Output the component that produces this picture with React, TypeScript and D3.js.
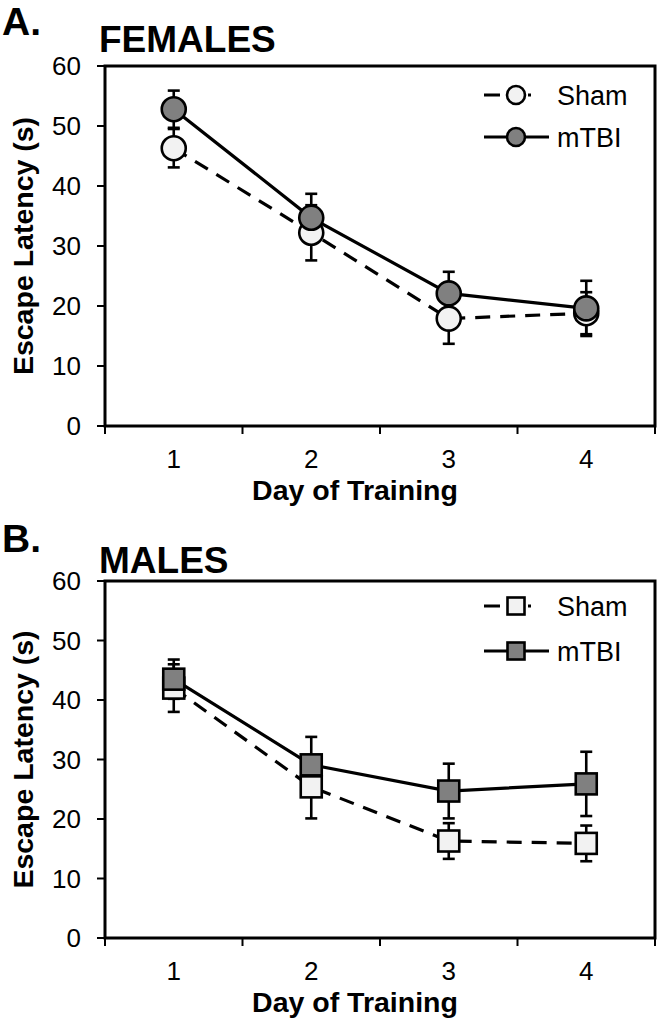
import React from "react";
import * as d3 from "d3";

const days = ["1", "2", "3", "4"];
const yTicks = [0, 10, 20, 30, 40, 50, 60];
const seriesNames = ["Sham", "mTBI"];

const femaleSham = [46.3, 32.2, 17.9, 18.8];
const femaleShamErr = [3.2, 4.6, 4.2, 3.5];
const femaleTbi = [52.8, 34.7, 22.1, 19.6];
const femaleTbiErr = [3.1, 4.0, 3.6, 4.6];

const maleSham = [42.0, 25.4, 16.3, 15.9];
const maleShamErr = [4.0, 5.3, 3.0, 3.0];
const maleTbi = [43.5, 29.1, 24.7, 25.9];
const maleTbiErr = [3.3, 4.7, 4.6, 5.4];

const FONT = "'Liberation Sans', Arial, Helvetica, sans-serif";
const SHAM_FILL = "#f2f2f2";
const TBI_FILL = "#808080";
const DASH = "15 10";

type PanelProps = {
  letter: string;
  title: string;
  top: number;
  bottom: number;
  letterY: number;
  titleY: number;
  shape: "circle" | "square";
  sham: number[];
  shamErr: number[];
  tbi: number[];
  tbiErr: number[];
  legendY: number[];
};

function Marker({ shape, x, y, size, fill }: { shape: string; x: number; y: number; size: number; fill: string }) {
  if (shape === "circle") {
    return <circle cx={x} cy={y} r={size} fill={fill} stroke="#000" strokeWidth={2.6} />;
  }
  return (
    <rect x={x - size} y={y - size} width={size * 2} height={size * 2} fill={fill} stroke="#000" strokeWidth={2.6} />
  );
}

function Panel(p: PanelProps) {
  const left = 105;
  const right = 655;
  const x = d3.scaleBand().domain(days).range([left, right]);
  const cx = (d: string) => (x(d) as number) + x.bandwidth() / 2;
  const y = d3.scaleLinear().domain([0, 60]).range([p.bottom, p.top]);
  const line = d3
    .line<number>()
    .x((_, i) => cx(days[i]))
    .y((v) => y(v));
  const boundaries = [left, ...days.map((d) => (x(d) as number) + x.bandwidth())];
  const mSize = p.shape === "circle" ? 12 : 10.5;
  const lSize = p.shape === "circle" ? 9 : 8.5;
  const cap = 6;

  const errBars = (vals: number[], errs: number[], key: string) =>
    vals.map((v, i) => {
      const xx = cx(days[i]);
      const y1 = y(v + errs[i]);
      const y2 = y(v - errs[i]);
      return (
        <g key={key + i} stroke="#000" strokeWidth={2.6}>
          <line x1={xx} x2={xx} y1={y1} y2={y2} />
          <line x1={xx - cap} x2={xx + cap} y1={y1} y2={y1} />
          <line x1={xx - cap} x2={xx + cap} y1={y2} y2={y2} />
        </g>
      );
    });

  const lx1 = 484;
  const lx2 = 553;
  const lmx = 516;
  const ltx = 557;

  return (
    <g fontFamily={FONT}>
      <text x={2} y={p.letterY} fontSize={39} fontWeight="bold">{p.letter}</text>
      <text x={99} y={p.titleY} fontSize={37} fontWeight="bold">{p.title}</text>

      {/* y ticks and labels */}
      {yTicks.map((t) => (
        <g key={"yt" + t}>
          <line x1={left - 8} x2={left} y1={y(t)} y2={y(t)} stroke="#000" strokeWidth={2} />
          <text x={81} y={y(t)} dy="0.36em" textAnchor="end" fontSize={26}>{t}</text>
        </g>
      ))}
      {/* x ticks */}
      {boundaries.map((b, i) => (
        <line key={"xt" + i} x1={b} x2={b} y1={p.bottom} y2={p.bottom + 8} stroke="#000" strokeWidth={2} />
      ))}
      {days.map((d) => (
        <text key={"xl" + d} x={cx(d)} y={p.bottom + 42} textAnchor="middle" fontSize={26}>{d}</text>
      ))}

      {/* axis titles */}
      <text
        transform={`translate(33,${(p.top + p.bottom) / 2}) rotate(-90)`}
        textAnchor="middle"
        fontSize={28.5}
        fontWeight="bold"
      >
        Escape Latency (s)
      </text>
      <text x={(left + right) / 2 - 25} y={p.bottom + 74} textAnchor="middle" fontSize={28.5} fontWeight="bold">
        Day of Training
      </text>

      {/* data */}
      {errBars(p.sham, p.shamErr, "se")}
      {errBars(p.tbi, p.tbiErr, "te")}
      <path d={line(p.sham) as string} fill="none" stroke="#000" strokeWidth={3.2} strokeDasharray={DASH} />
      <path d={line(p.tbi) as string} fill="none" stroke="#000" strokeWidth={3.2} />
      {p.sham.map((v, i) => (
        <Marker key={"sm" + i} shape={p.shape} x={cx(days[i])} y={y(v)} size={mSize} fill={SHAM_FILL} />
      ))}
      {p.tbi.map((v, i) => (
        <Marker key={"tm" + i} shape={p.shape} x={cx(days[i])} y={y(v)} size={mSize} fill={TBI_FILL} />
      ))}

      {/* legend */}
      <line x1={lx1} x2={lx2} y1={p.legendY[0]} y2={p.legendY[0]} stroke="#000" strokeWidth={3.2} strokeDasharray="16 9 6 13 3 30" />
      <Marker shape={p.shape} x={lmx} y={p.legendY[0]} size={lSize} fill={SHAM_FILL} />
      <text x={ltx} y={p.legendY[0]} dy="0.36em" fontSize={27}>{seriesNames[0]}</text>
      <line x1={lx1} x2={lx2 - 4} y1={p.legendY[1]} y2={p.legendY[1]} stroke="#000" strokeWidth={3.2} />
      <Marker shape={p.shape} x={lmx} y={p.legendY[1]} size={lSize} fill={TBI_FILL} />
      <text x={ltx} y={p.legendY[1]} dy="0.36em" fontSize={27}>{seriesNames[1]}</text>

      {/* frame */}
      <rect x={left} y={p.top} width={right - left} height={p.bottom - p.top} fill="none" stroke="#000" strokeWidth={3} />
    </g>
  );
}

export default function App() {
  return (
    <svg
      width={659}
      height={1020}
      style={{ position: "absolute", left: 0, top: 0, background: "#fff" }}
    >
      <rect width={659} height={1020} fill="#fff" />
      <Panel
        letter="A."
        title="FEMALES"
        top={66}
        bottom={426}
        letterY={35}
        titleY={52}
        shape="circle"
        sham={femaleSham}
        shamErr={femaleShamErr}
        tbi={femaleTbi}
        tbiErr={femaleTbiErr}
        legendY={[95, 137]}
      />
      <Panel
        letter="B."
        title="MALES"
        top={581}
        bottom={938}
        letterY={552}
        titleY={573}
        shape="square"
        sham={maleSham}
        shamErr={maleShamErr}
        tbi={maleTbi}
        tbiErr={maleTbiErr}
        legendY={[606, 651]}
      />
    </svg>
  );
}
